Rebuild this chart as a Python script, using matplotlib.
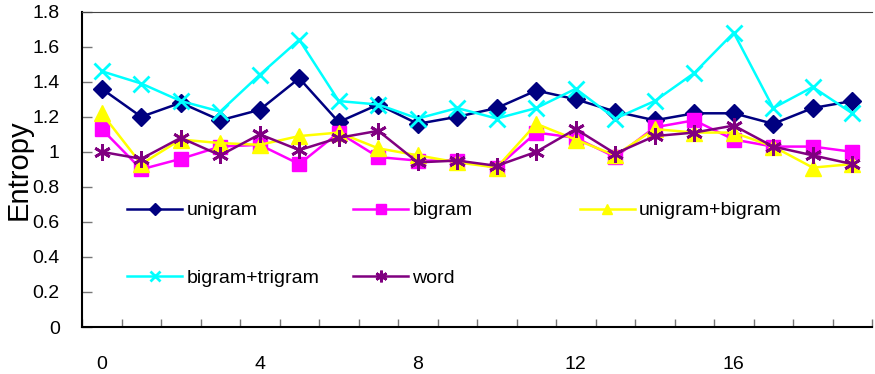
import numpy as np
import matplotlib
matplotlib.use('Agg')
import matplotlib.pyplot as plt
from matplotlib.ticker import FuncFormatter, MultipleLocator

plt.rcParams['font.family'] = ['Liberation Sans', 'DejaVu Sans']

# data
x = np.arange(20)
unigram = [1.36, 1.20, 1.28, 1.18, 1.24, 1.42, 1.17, 1.27, 1.16, 1.20,
           1.25, 1.35, 1.30, 1.23, 1.18, 1.22, 1.22, 1.16, 1.25, 1.29]
bigram = [1.13, 0.90, 0.96, 1.03, 1.04, 0.93, 1.11, 0.97, 0.95, 0.95,
          0.91, 1.11, 1.08, 0.97, 1.14, 1.18, 1.07, 1.03, 1.03, 1.00]
uni_bi = [1.22, 0.93, 1.07, 1.05, 1.04, 1.09, 1.11, 1.02, 0.98, 0.94,
          0.91, 1.16, 1.07, 0.98, 1.13, 1.11, 1.11, 1.03, 0.91, 0.93]
bi_tri = [1.46, 1.39, 1.29, 1.23, 1.44, 1.64, 1.29, 1.27, 1.19, 1.25,
          1.19, 1.25, 1.36, 1.19, 1.29, 1.45, 1.68, 1.25, 1.37, 1.22]
word = [1.00, 0.96, 1.08, 0.98, 1.10, 1.01, 1.08, 1.12, 0.94, 0.95,
        0.92, 1.00, 1.13, 0.99, 1.09, 1.11, 1.15, 1.03, 0.98, 0.93]

series = [
    ('unigram', unigram, '#000080', 'D', 9),
    ('bigram', bigram, '#FF00FF', 's', 10),
    ('unigram+bigram', uni_bi, '#FFFF00', '^', 11),
    ('bigram+trigram', bi_tri, '#00FFFF', 'x', 11),
    ('word', word, '#800080', (6, 2, 0), 12),
]

fig = plt.figure(figsize=(8.75, 3.74), dpi=100)
ax = fig.add_axes([82 / 875, 1 - 327 / 374, 790 / 875, (327 - 11.7) / 374])

lines = {}
for name, vals, col, mk, ms in series:
    ln, = ax.plot(x, vals, color=col, marker=mk, markersize=ms, lw=1.8,
                  markeredgewidth=2 if mk in ('x', (6, 2, 0)) else 1,
                  markeredgecolor=col, label=name)
    lines[name] = ln

ax.set_xlim(-0.5, 19.5)
ax.set_ylim(0, 1.8)

ax.set_xticks([0, 4, 8, 12, 16])
ax.set_xticks(np.arange(-0.5, 19.6, 1), minor=True)
ax.tick_params(axis='x', which='major', length=0, pad=21, labelsize=14)
ax.tick_params(axis='x', which='minor', direction='in', length=6, color='#777777', width=1)

ax.yaxis.set_major_locator(MultipleLocator(0.2))
ax.yaxis.set_major_formatter(FuncFormatter(lambda v, p: '%g' % round(v, 1)))
ax.tick_params(axis='y', direction='in', length=7, color='#777777', width=1,
               pad=16, labelsize=14)

ax.spines['right'].set_visible(False)
ax.spines['top'].set_color('#444444')
ax.spines['left'].set_linewidth(1.5)
ax.spines['bottom'].set_linewidth(1.5)

ax.set_ylabel('Entropy', fontsize=21, labelpad=0)

# three separate legend columns
cols = [(['unigram', 'bigram+trigram'], 0.057),
        (['bigram', 'word'], 0.343),
        (['unigram+bigram'], 0.630)]
for i, (names, xa) in enumerate(cols):
    leg = ax.legend([lines[n] for n in names], names, loc='upper left',
                    bbox_to_anchor=(xa, 0.397), frameon=False, fontsize=14,
                    borderpad=0, borderaxespad=0, handlelength=2.85,
                    handletextpad=0.2, labelspacing=2.55, markerscale=0.7)
    if i < len(cols) - 1:
        ax.add_artist(leg)

fig.savefig('out.png', dpi=100)
